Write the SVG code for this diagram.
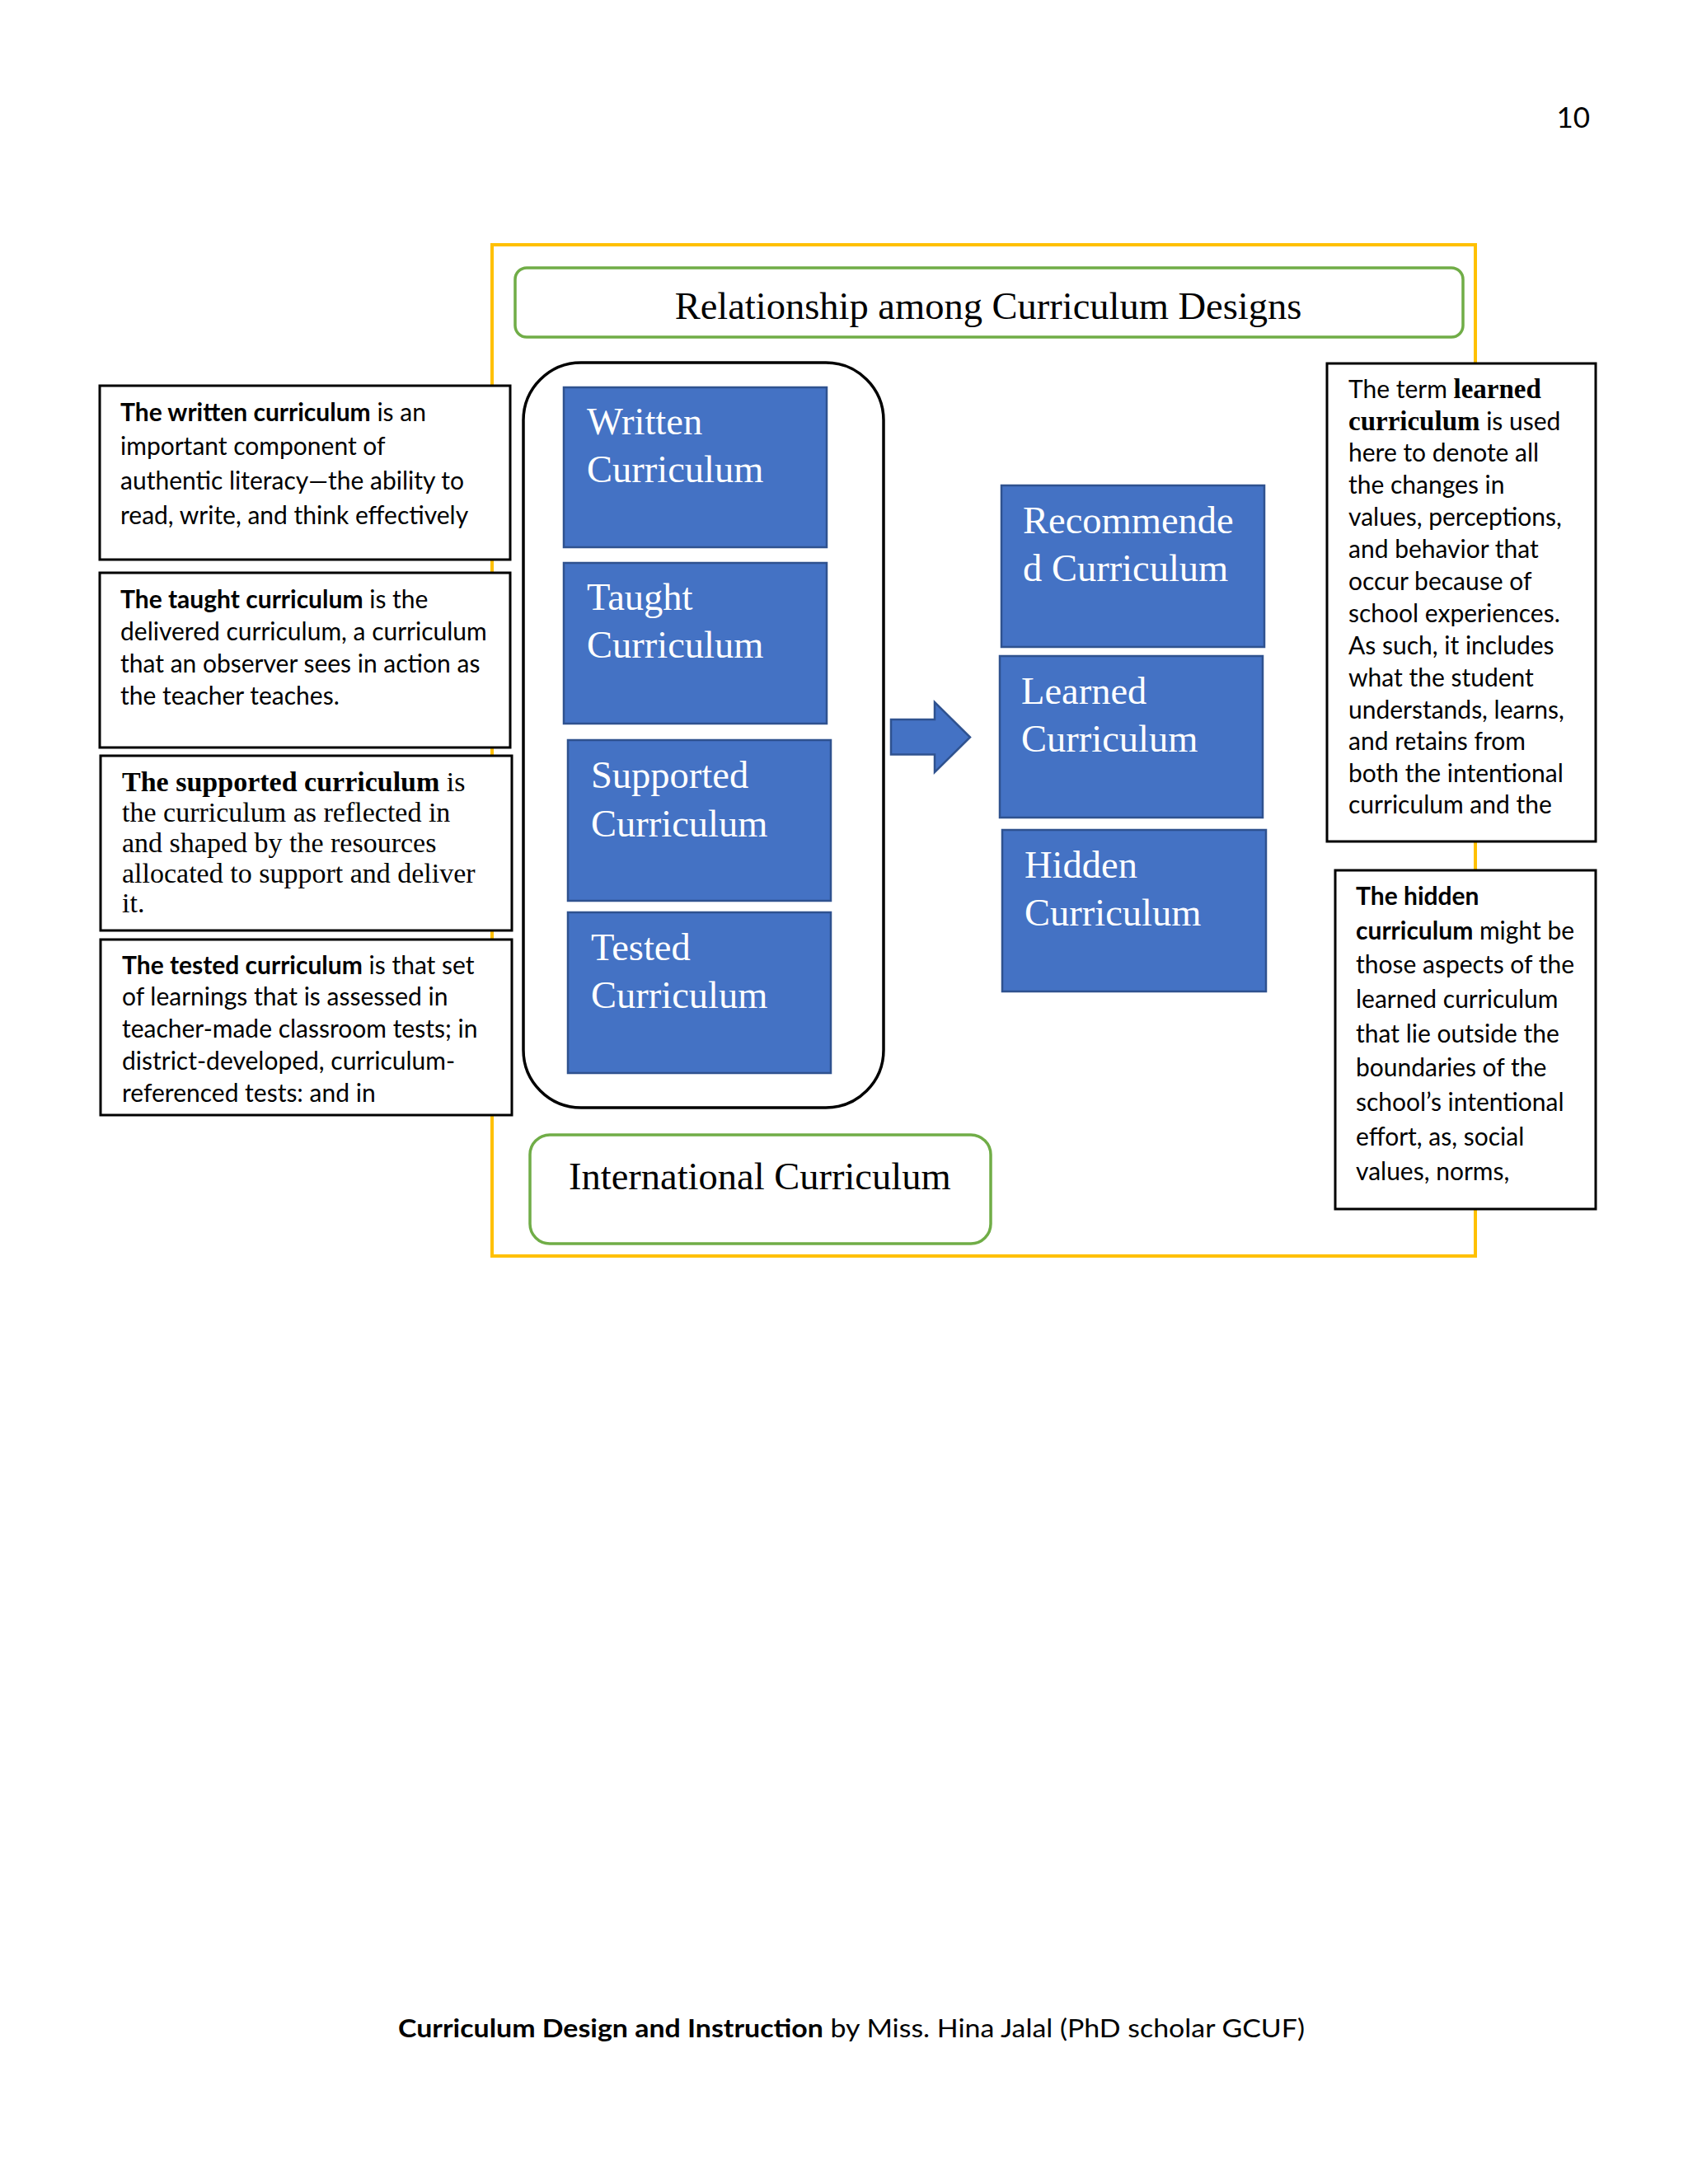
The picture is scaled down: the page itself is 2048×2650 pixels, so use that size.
<svg xmlns="http://www.w3.org/2000/svg" width="2048" height="2650" viewBox="0 0 2048 2650">
<style>
.sans{font-family:Lato,"Open Sans","Liberation Sans",sans-serif;font-size:30px;fill:#000}
.serif{font-family:"Liberation Serif","Times New Roman",serif;fill:#000}
.b{font-weight:bold}
.sb{font-family:"Liberation Serif","Times New Roman",serif;font-weight:bold;font-size:33px}
.note{fill:#fff;stroke:#000;stroke-width:3}
.blue{fill:#4472C4;stroke:#2F528F;stroke-width:2.5}
.btxt{font-family:"Liberation Serif","Times New Roman",serif;font-size:46.5px;fill:#fff}
.green{fill:#fff;stroke:#70AD47;stroke-width:3.5}
.sup{font-size:34px}
</style>
<rect width="2048" height="2650" fill="#fff"/>
<text class="sans" x="1929" y="155" text-anchor="end" style="font-size:35px">10</text>

<g id="frame"><rect x="597" y="297" width="1193" height="1227" fill="#fff" stroke="#FFC000" stroke-width="4"/></g>

<g id="title"><rect class="green" x="625" y="325" width="1150" height="84" rx="14"/>
<text class="serif" x="1199" y="387" text-anchor="middle" style="font-size:46.5px">Relationship among Curriculum Designs</text></g>

<g id="container"><rect x="635" y="440" width="437" height="904" rx="70" fill="#fff" stroke="#000" stroke-width="3.5"/></g>

<g id="written"><rect class="blue" x="684" y="470" width="319" height="194"/>
<text class="btxt" x="712" y="527">Written</text><text class="btxt" x="712" y="585">Curriculum</text></g>
<g id="taught"><rect class="blue" x="684" y="683" width="319" height="195"/>
<text class="btxt" x="712" y="740">Taught</text><text class="btxt" x="712" y="798">Curriculum</text></g>
<g id="supported"><rect class="blue" x="689" y="898" width="319" height="195"/>
<text class="btxt" x="717" y="956">Supported</text><text class="btxt" x="717" y="1015">Curriculum</text></g>
<g id="tested"><rect class="blue" x="689" y="1107" width="319" height="195"/>
<text class="btxt" x="717" y="1165">Tested</text><text class="btxt" x="717" y="1223">Curriculum</text></g>

<g id="international"><rect class="green" x="643" y="1377" width="559" height="132" rx="24"/>
<text class="serif" x="690" y="1443" style="font-size:46.5px">International Curriculum</text></g>

<g id="connectors"><path class="blue" d="M1081,873 L1134,873 L1134,852 L1177,894.5 L1134,937 L1134,915.5 L1081,915.5 Z"/></g>

<g id="recommended"><rect class="blue" x="1215" y="589" width="319" height="196"/>
<text class="btxt" x="1241" y="647">Recommende</text><text class="btxt" x="1241" y="705">d Curriculum</text></g>
<g id="learned"><rect class="blue" x="1213" y="796" width="319" height="196"/>
<text class="btxt" x="1239" y="854">Learned</text><text class="btxt" x="1239" y="912">Curriculum</text></g>
<g id="hidden"><rect class="blue" x="1216" y="1007" width="320" height="196"/>
<text class="btxt" x="1243" y="1065">Hidden</text><text class="btxt" x="1243" y="1123">Curriculum</text></g>

<g id="note-written"><rect class="note" x="121" y="468" width="498" height="211"/>
<text class="sans" x="146" y="511"><tspan class="b">The written curriculum</tspan> is an</text>
<text class="sans" x="146" y="552">important component of</text>
<text class="sans" x="146" y="594">authentic literacy—the ability to</text>
<text class="sans" x="146" y="636">read, write, and think effectively</text></g>

<g id="note-taught"><rect class="note" x="121" y="695" width="498" height="212"/>
<text class="sans" x="146" y="738"><tspan class="b">The taught curriculum</tspan> is the</text>
<text class="sans" x="146" y="777">delivered curriculum, a curriculum</text>
<text class="sans" x="146" y="816">that an observer sees in action as</text>
<text class="sans" x="146" y="855">the teacher teaches.</text></g>

<g id="note-supported"><rect class="note" x="122" y="917" width="499" height="212"/>
<text class="serif sup" x="148" y="960"><tspan class="b">The supported curriculum</tspan> is</text>
<text class="serif sup" x="148" y="997">the curriculum as reflected in</text>
<text class="serif sup" x="148" y="1034">and shaped by the resources</text>
<text class="serif sup" x="148" y="1071">allocated to support and deliver</text>
<text class="serif sup" x="148" y="1107">it.</text></g>

<g id="note-tested"><rect class="note" x="122" y="1140" width="499" height="213"/>
<text class="sans" x="148" y="1182"><tspan class="b">The tested curriculum</tspan> is that set</text>
<text class="sans" x="148" y="1220">of learnings that is assessed in</text>
<text class="sans" x="148" y="1259">teacher-made classroom tests; in</text>
<text class="sans" x="148" y="1298">district-developed, curriculum-</text>
<text class="sans" x="148" y="1337">referenced tests: and in</text></g>

<g id="note-learned"><rect class="note" x="1610" y="441" width="326" height="580"/>
<text class="sans" x="1636" y="483">The term <tspan class="sb">learned</tspan></text>
<text class="sans" x="1636" y="522"><tspan class="sb">curriculum</tspan> is used</text>
<text class="sans" x="1636" y="560">here to denote all</text>
<text class="sans" x="1636" y="599">the changes in</text>
<text class="sans" x="1636" y="638">values, perceptions,</text>
<text class="sans" x="1636" y="677">and behavior that</text>
<text class="sans" x="1636" y="716">occur because of</text>
<text class="sans" x="1636" y="755">school experiences.</text>
<text class="sans" x="1636" y="794">As such, it includes</text>
<text class="sans" x="1636" y="833">what the student</text>
<text class="sans" x="1636" y="872">understands, learns,</text>
<text class="sans" x="1636" y="910">and retains from</text>
<text class="sans" x="1636" y="949">both the intentional</text>
<text class="sans" x="1636" y="987">curriculum and the</text></g>

<g id="note-hidden"><rect class="note" x="1620" y="1056" width="316" height="411"/>
<text class="sans b" x="1645" y="1098">The hidden</text>
<text class="sans" x="1645" y="1140"><tspan class="b">curriculum</tspan> might be</text>
<text class="sans" x="1645" y="1181">those aspects of the</text>
<text class="sans" x="1645" y="1223">learned curriculum</text>
<text class="sans" x="1645" y="1265">that lie outside the</text>
<text class="sans" x="1645" y="1306">boundaries of the</text>
<text class="sans" x="1645" y="1348">school’s intentional</text>
<text class="sans" x="1645" y="1390">effort, as, social</text>
<text class="sans" x="1645" y="1432">values, norms,</text></g>

<g id="footer"><text class="sans" x="1033" y="2472" text-anchor="middle" textLength="1100" lengthAdjust="spacingAndGlyphs"><tspan class="b">Curriculum Design and Instruction</tspan> by Miss. Hina Jalal (PhD scholar GCUF)</text></g>
</svg>
